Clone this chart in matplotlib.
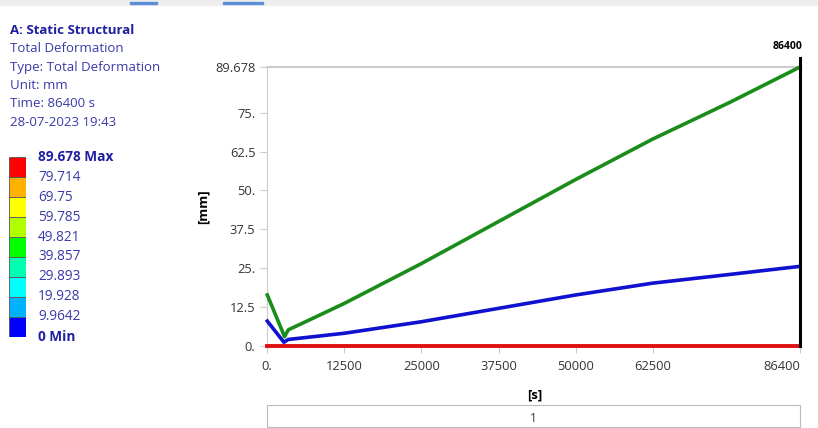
import matplotlib.pyplot as plt
from matplotlib.patches import Rectangle

plt.rcParams['font.family'] = ['Open Sans', 'DejaVu Sans']

# time [s] and deformation [mm]
t_green = [0, 2800, 3400, 6000, 12500, 25000, 37500, 50000, 62500, 75000, 86400]
max_def = [16.4, 3.0, 5.2, 7.6, 13.7, 26.5, 40.0, 53.5, 66.5, 78.3, 89.678]
t_blue = [0, 2700, 3400, 12500, 25000, 37500, 50000, 62500, 75000, 86400]
avg_def = [8.0, 1.2, 2.1, 4.1, 7.8, 12.1, 16.4, 20.2, 23.0, 25.6]
t_red = [0, 2800, 86400]
min_def = [0, 0, 0]

xticks = [0, 12500, 25000, 37500, 50000, 62500, 86400]
xticklabels = ['0.', '12500', '25000', '37500', '50000', '62500', '86400']
yticks = [0, 12.5, 25, 37.5, 50, 62.5, 75, 89.678]
yticklabels = ['0.', '12.5', '25.', '37.5', '50.', '62.5', '75.', '89.678']

header = ['Total Deformation', 'Type: Total Deformation', 'Unit: mm',
          'Time: 86400 s', '28-07-2023 19:43']
legend_vals = ['0 Min', '9.9642', '19.928', '29.893', '39.857', '49.821',
               '59.785', '69.75', '79.714', '89.678 Max']
legend_cols = ['#0000ff', '#00b2ff', '#00ffff', '#00ffb2', '#00ff00',
               '#b2ff00', '#ffff00', '#ffb200', '#ff0000']

W, H = 818, 428
fig = plt.figure(figsize=(W / 100, H / 100), dpi=100)


def fx(px):
    return px / W


def fy(py):
    return 1 - py / H


# top toolbar strip
fig.add_artist(Rectangle((0, fy(5)), 1, 5 / H, color='#eeeeee', transform=fig.transFigure))
fig.add_artist(Rectangle((fx(130), fy(4)), 27 / W, 2 / H, color='#5b8fd6', transform=fig.transFigure))
fig.add_artist(Rectangle((fx(223), fy(4)), 40 / W, 2 / H, color='#5b8fd6', transform=fig.transFigure))

# header text
fig.text(fx(10), fy(31), 'A: Static Structural', color='#1f1fa0', fontsize=9.5,
         fontweight='bold', va='center')
for i, s in enumerate(header):
    fig.text(fx(10), fy(49 + i * 18.3), s, color='#3a3aa8', fontsize=9.5, va='center')

# colour legend
cax = fig.add_axes([fx(8.5), fy(337), 18 / W, 180 / H])
for i, c in enumerate(legend_cols):
    cax.bar(0, 1, bottom=i, width=1, color=c, edgecolor='#555555', linewidth=0.6)
cax.set_xlim(-0.5, 0.5)
cax.set_ylim(0, 9)
cax.axis('off')
for i, s in enumerate(legend_vals):
    bold = 'Max' in s or 'Min' in s
    cax.text(1.15, i, s, color='#1f1fa0' if bold else '#3a3aa8', fontsize=9.8,
             fontweight='bold' if bold else 'normal', va='center', ha='left',
             clip_on=False)

# main chart
ax = fig.add_axes([fx(267.3), fy(346), (800 - 267.3) / W, (346 - 67) / H])
ax.plot(t_green, max_def, color='#1a8c1a', lw=2.6, clip_on=False, zorder=3)
ax.plot(t_blue, avg_def, color='#1010d0', lw=2.6, clip_on=False, zorder=3)
ax.plot(t_red, min_def, color='#e01010', lw=2.8, clip_on=False, zorder=4)
ax.plot([86400, 86400], [0, 92.6], color='black', lw=2.2, clip_on=False, zorder=5)
ax.annotate('86400', xy=(86400, 92.6), xytext=(2, 4), textcoords='offset points',
            ha='right', va='bottom', fontsize=7.5, fontweight='bold',
            annotation_clip=False)

ax.set_xlim(0, 86400)
ax.set_ylim(0, 89.678)
ax.set_xticks(xticks)
ax.set_xticklabels(xticklabels)
ax.get_xticklabels()[-1].set_horizontalalignment('right')
ax.set_yticks(yticks)
ax.set_yticklabels(yticklabels)
ax.tick_params(colors='#cccccc', labelcolor='#333333', labelsize=9.3, length=5, width=0.8)
ax.tick_params(axis='x', pad=5)
for side in ['right', 'bottom']:
    ax.spines[side].set_visible(False)
ax.spines['left'].set_color('#cccccc')
ax.spines['top'].set_color('#cccccc')
ax.spines['top'].set_linewidth(1.5)
ax.set_ylabel('[mm]', fontsize=9.5, fontweight='bold', labelpad=4)

fig.text(fx(535), fy(395), '[s]', fontsize=9.5, fontweight='bold', ha='center', va='center')
fig.add_artist(Rectangle((fx(267), fy(427)), (800 - 267) / W, 22 / H, facecolor='white',
                         edgecolor='#bbbbbb', lw=0.8, transform=fig.transFigure))
fig.text(fx(533), fy(418), '1', fontsize=8.5, ha='center', va='center', color='#333333')

fig.savefig('out.png', dpi=100)
